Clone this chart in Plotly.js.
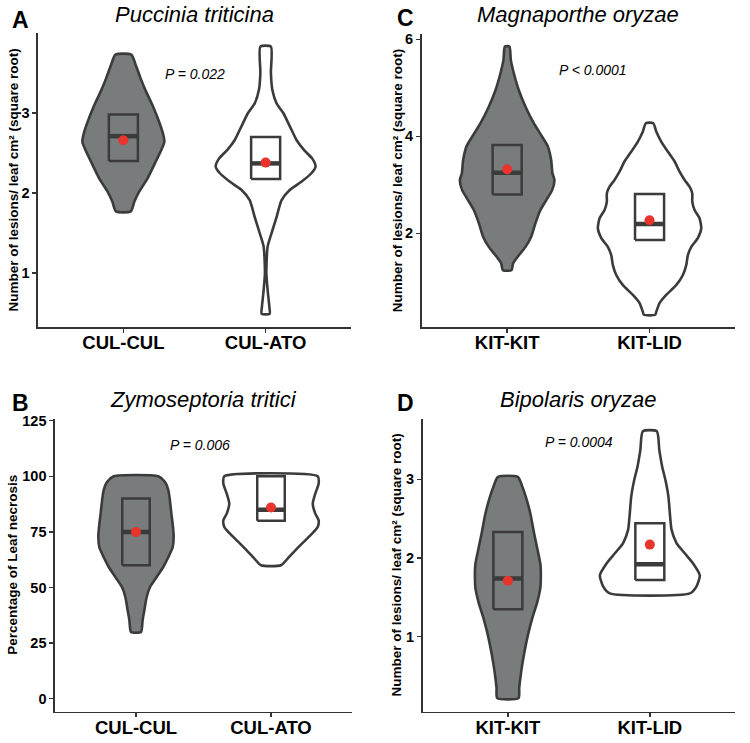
<!DOCTYPE html>
<html><head><meta charset="utf-8">
<script src="https://cdn.plot.ly/plotly-3.0.1.min.js"></script>
<style>html,body{margin:0;padding:0;background:#fff}#chart{width:750px;height:743px}</style>
</head><body><div id="chart"></div>
<script>
// ---------------- DATA ----------------
const groupsA = ['CUL-CUL', 'CUL-ATO'];
const groupsB = ['CUL-CUL', 'CUL-ATO'];
const groupsC = ['KIT-KIT', 'KIT-LID'];
const groupsD = ['KIT-KIT', 'KIT-LID'];

const titlesPanel = ['Puccinia triticina', 'Zymoseptoria tritici', 'Magnaporthe oryzae', 'Bipolaris oryzae'];
const pLabels = ['P = 0.022', 'P = 0.006', 'P < 0.0001', 'P = 0.0004'];
const yTitles = ['Number of lesions/ leaf cm² (square root)', 'Percentage of Leaf necrosis',
                 'Number of lesions/ leaf cm² (square root)', 'Number of lesions/ leaf cm² (square root)'];

// violin density profiles (value, half-width)
const profA1_y = [3.73, 3.60, 3.43, 3.27, 3.10, 2.89, 2.725, 2.64, 2.56, 2.39, 2.18, 2.02, 1.89, 1.77];
const profA1_w = [0.056, 0.087, 0.122, 0.159, 0.204, 0.251, 0.281, 0.288, 0.272, 0.227, 0.169, 0.112, 0.077, 0.052];
const profA2_y = [3.83, 3.50, 3.29, 3.12, 3.00, 2.83, 2.66, 2.54, 2.43, 2.33, 2.25, 2.14, 2.04, 1.91, 1.70, 1.50, 1.33, 1.00, 0.75, 0.58, 0.49];
const profA2_w = [0.037, 0.037, 0.047, 0.077, 0.124, 0.171, 0.218, 0.269, 0.328, 0.351, 0.323, 0.251, 0.171, 0.112, 0.077, 0.042, 0.014, 0.005, 0.016, 0.026, 0.028];

const profB1_y = [100, 97.4, 93.7, 87.7, 83.2, 77.2, 72.7, 68.2, 63.7, 59.2, 54.7, 50.2, 45.7, 39.8, 35.3, 30];
const profB1_w = [0.165, 0.215, 0.240, 0.254, 0.262, 0.274, 0.279, 0.272, 0.240, 0.202, 0.153, 0.104, 0.079, 0.062, 0.049, 0.037];
const profB2_y = [100, 96.7, 92.2, 87.7, 83.2, 80.2, 77.2, 74.2, 70.5, 66.7, 63.0, 60];
const profB2_w = [0.346, 0.353, 0.328, 0.309, 0.328, 0.353, 0.346, 0.304, 0.242, 0.180, 0.123, 0.074];

const profC1_y = [5.85, 5.57, 5.30, 4.95, 4.61, 4.27, 3.99, 3.79, 3.51, 3.24, 3.10, 2.89, 2.69, 2.48, 2.21, 1.93, 1.72, 1.52, 1.38, 1.24];
const profC1_w = [0.016, 0.026, 0.047, 0.082, 0.129, 0.187, 0.246, 0.286, 0.309, 0.318, 0.332, 0.316, 0.276, 0.234, 0.199, 0.169, 0.129, 0.075, 0.042, 0.030];
const profC2_y = [4.27, 4.10, 3.89, 3.68, 3.48, 3.27, 3.10, 2.96, 2.82, 2.65, 2.48, 2.31, 2.10, 1.90, 1.72, 1.55, 1.35, 1.14, 0.93, 0.73, 0.56, 0.38, 0.32];
const profC2_w = [0.026, 0.047, 0.082, 0.129, 0.176, 0.211, 0.246, 0.281, 0.300, 0.300, 0.316, 0.351, 0.363, 0.339, 0.293, 0.269, 0.258, 0.234, 0.187, 0.117, 0.070, 0.047, 0.040];

const profD1_y = [3.03, 2.91, 2.72, 2.55, 2.33, 2.12, 1.91, 1.74, 1.61, 1.44, 1.23, 1.02, 0.77, 0.56, 0.35, 0.22];
const profD1_w = [0.070, 0.101, 0.136, 0.160, 0.183, 0.207, 0.230, 0.232, 0.228, 0.207, 0.171, 0.141, 0.113, 0.094, 0.080, 0.075];
const profD2_y = [3.61, 3.37, 3.16, 2.99, 2.78, 2.57, 2.36, 2.19, 2.06, 1.93, 1.78, 1.64, 1.55];
const profD2_w = [0.049, 0.067, 0.087, 0.110, 0.131, 0.141, 0.153, 0.188, 0.246, 0.305, 0.352, 0.329, 0.282];

// box statistics (first group, second group)
const q1A = [2.40, 2.175], medA = [2.71, 2.37], q3A = [2.98, 2.70], meanA = [2.66, 2.38];
const q1B = [60, 80],      medB = [75, 85],     q3B = [90, 100],    meanB = [75, 86];
const q1C = [2.80, 1.86],  medC = [3.25, 2.19], q3C = [3.82, 2.81], meanC = [3.32, 2.27];
const q1D = [1.35, 1.72],  medD = [1.74, 1.92], q3D = [2.33, 2.44], meanD = [1.71, 2.17];

// ---------------- STYLE ----------------
const W = 750, H = 743;
const FONT = 'Liberation Sans, Arial, Helvetica, sans-serif';
const OUT = '#3b3b3b';
const AX = '#333333';
const GRAY = '#797c7c';
const RED = '#e8342c';
const BOXW = 0.102;

function violinTrace(center, ys, ws, fill, xa, ya) {
  const x = [], y = [];
  for (let k = 0; k < ys.length; k++) { x.push(center + ws[k]); y.push(ys[k]); }
  for (let k = ys.length - 1; k >= 0; k--) { x.push(center - ws[k]); y.push(ys[k]); }
  x.push(x[0]); y.push(y[0]);
  return {type: 'scatter', mode: 'lines', x, y, xaxis: xa, yaxis: ya, fill: 'toself', fillcolor: fill,
          line: {color: OUT, width: 2.6, shape: 'spline', smoothing: 0.6}, hoverinfo: 'skip', showlegend: false};
}
function boxTraces(q1, med, q3, mean, xa, ya) {
  const tr = [];
  for (let i = 0; i < 2; i++) {
    const c = i + 1;
    tr.push({type: 'scatter', mode: 'lines', xaxis: xa, yaxis: ya, showlegend: false, hoverinfo: 'skip',
      x: [c - BOXW, c + BOXW, c + BOXW, c - BOXW, c - BOXW], y: [q1[i], q1[i], q3[i], q3[i], q1[i]],
      line: {color: OUT, width: 2.5}});
    tr.push({type: 'scatter', mode: 'lines', xaxis: xa, yaxis: ya, showlegend: false, hoverinfo: 'skip',
      x: [c - BOXW, c + BOXW], y: [med[i], med[i]], line: {color: OUT, width: 4.5}});
  }
  tr.push({type: 'scatter', mode: 'markers', xaxis: xa, yaxis: ya, showlegend: false, hoverinfo: 'skip',
    x: [1, 2], y: mean, marker: {color: RED, size: 10}});
  return tr;
}

const data = [
  violinTrace(1, profA1_y, profA1_w, GRAY, 'x', 'y'),
  violinTrace(2, profA2_y, profA2_w, '#ffffff', 'x', 'y'),
  ...boxTraces(q1A, medA, q3A, meanA, 'x', 'y'),
  violinTrace(1, profB1_y, profB1_w, GRAY, 'x2', 'y2'),
  violinTrace(2, profB2_y, profB2_w, '#ffffff', 'x2', 'y2'),
  ...boxTraces(q1B, medB, q3B, meanB, 'x2', 'y2'),
  violinTrace(1, profC1_y, profC1_w, GRAY, 'x3', 'y3'),
  violinTrace(2, profC2_y, profC2_w, '#ffffff', 'x3', 'y3'),
  ...boxTraces(q1C, medC, q3C, meanC, 'x3', 'y3'),
  violinTrace(1, profD1_y, profD1_w, GRAY, 'x4', 'y4'),
  violinTrace(2, profD2_y, profD2_w, '#ffffff', 'x4', 'y4'),
  ...boxTraces(q1D, medD, q3D, meanD, 'x4', 'y4'),
];

// panel pixel boxes [left, right, top, bottom]
const boxes = [[38, 351, 33, 327], [55, 352, 419, 711.7], [421.7, 735, 34.3, 327], [422.7, 735, 419.3, 711.7]];
const yRanges = [[0.325, 4.0], [-5.85, 125.76], [0.068, 6.103], [0.047, 3.762]];
const yTicks = [[1, 2, 3], [0, 25, 50, 75, 100, 125], [2, 4, 6], [1, 2, 3]];
const groups = [groupsA, groupsB, groupsC, groupsD];

const layout = {width: W, height: H, margin: {l: 0, r: 0, t: 0, b: 0}, paper_bgcolor: '#fff', plot_bgcolor: '#fff',
  showlegend: false, annotations: []};

boxes.forEach((b, i) => {
  const sx = i === 0 ? '' : String(i + 1);
  layout['xaxis' + sx] = {domain: [b[0] / W, b[1] / W], range: [0.4, 2.6], tickvals: [1, 2], ticktext: groups[i],
    anchor: 'y' + sx, showline: true, linecolor: AX, linewidth: 1.6, ticks: 'outside', ticklen: 4, tickwidth: 1.4,
    tickcolor: AX, showgrid: false, zeroline: false, fixedrange: true, ticklabelstandoff: -6,
    tickfont: {family: FONT, size: 18.5, color: '#000', weight: 'bold'}};
  layout['yaxis' + sx] = {domain: [1 - b[3] / H, 1 - b[2] / H], range: yRanges[i], tickvals: yTicks[i],
    anchor: 'x' + sx, showline: true, linecolor: AX, linewidth: 1.6, ticks: 'outside', ticklen: 4, tickwidth: 1.4,
    tickcolor: AX, showgrid: false, zeroline: false, fixedrange: true,
    tickfont: {family: FONT, size: 14.5, color: '#000', weight: 'bold'}};
});

// panel letters, titles, y titles, P values
const letters = ['A', 'B', 'C', 'D'];
const letterPos = [[10, 19.5], [10, 403], [395, 18], [395, 403]];
const titleY = [14.5, 399.5, 14.5, 399.5];
const yTitleX = [12.5, 12.5, 397.5, 396];
const pPos = [[1.5, 3.49], [1.474, 113.9], [1.603, 5.37], [1.5, 3.48]];
boxes.forEach((b, i) => {
  const sx = i === 0 ? '' : String(i + 1);
  layout.annotations.push({xref: 'paper', yref: 'paper', x: letterPos[i][0] / W, y: 1 - letterPos[i][1] / H,
    xanchor: 'left', yanchor: 'middle', showarrow: false, text: letters[i],
    font: {family: FONT, size: 23, color: '#000', weight: 'bold'}});
  layout.annotations.push({xref: 'paper', yref: 'paper', x: (b[0] + b[1]) / 2 / W, y: 1 - titleY[i] / H,
    xanchor: 'center', yanchor: 'middle', showarrow: false, text: titlesPanel[i],
    font: {family: FONT, size: 22, color: '#000', style: 'italic'}});
  layout.annotations.push({xref: 'paper', yref: 'paper', x: yTitleX[i] / W, y: 1 - (b[2] + b[3]) / 2 / H,
    xanchor: 'center', yanchor: 'middle', showarrow: false, textangle: -90, text: yTitles[i],
    font: {family: FONT, size: 13.5, color: '#000', weight: 'bold'}});
  layout.annotations.push({xref: 'x' + sx, yref: 'y' + sx, x: pPos[i][0], y: pPos[i][1],
    xanchor: 'center', yanchor: 'middle', showarrow: false, text: pLabels[i],
    font: {family: FONT, size: 14, color: '#000', style: 'italic'}});
});

Plotly.newPlot('chart', data, layout, {displayModeBar: false, staticPlot: true});
</script></body></html>
